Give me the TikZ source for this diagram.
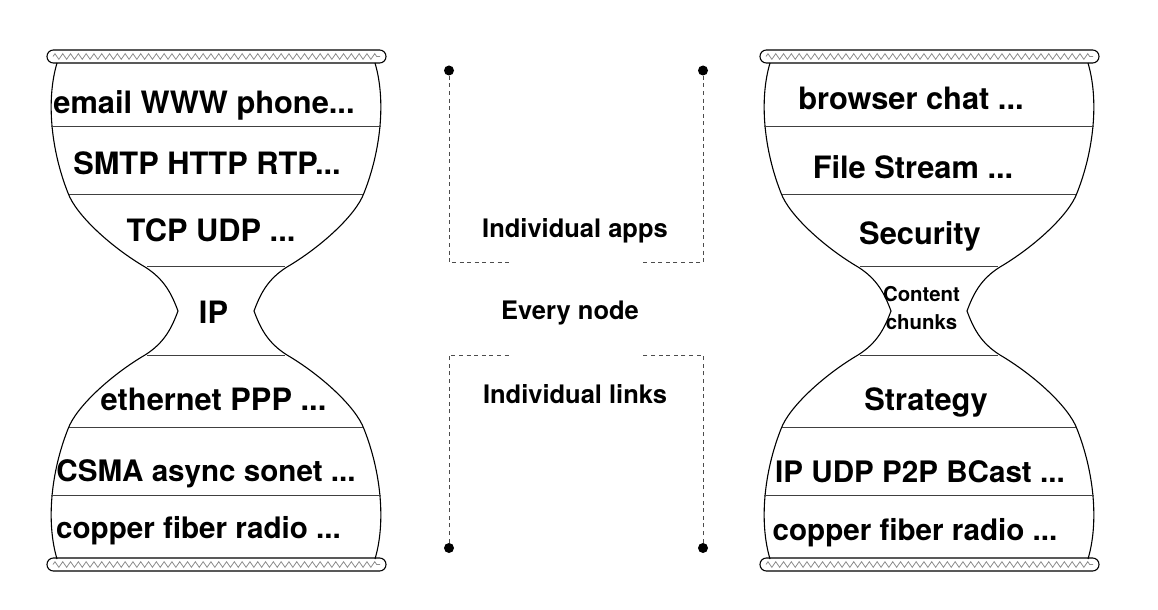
\documentclass[tikz,border=0pt]{standalone}
\usepackage{fontspec}
\setmainfont{TeX Gyre Heros}
\usetikzlibrary{decorations.pathmorphing}

\tikzset{
  glass/.style={draw, line width=0.55pt},
  layer/.style={draw=black!75, line width=0.5pt},
  rim/.style={draw, line width=0.55pt, rounded corners=3.2pt},
  zig/.style={draw=black!45, line width=0.4pt, decorate,
    decoration={zigzag, segment length=3.9pt, amplitude=1.4pt}},
  guide/.style={draw=black!70, line width=0.5pt, dash pattern=on 2pt off 1.8pt},
  dot/.style={circle, fill, inner sep=0pt, minimum size=5pt},
  stack/.style={font=\fontsize{15.4}{18}\selectfont\bfseries, anchor=base, inner sep=0pt},
  stacklow/.style={stack, font=\fontsize{14.8}{18}\selectfont\bfseries},
  note/.style={font=\fontsize{12.75}{15}\selectfont\bfseries, anchor=base, inner sep=0pt}
}

\begin{document}
\begin{tikzpicture}[x=0.5pt, y=-0.5pt]
  \useasboundingbox (0,0) rectangle (1158,610);

  % hourglass outlines, layer lines and rims
  \foreach \cx in {216,929}{
    \begin{scope}[shift={(\cx,311)}]
      \foreach \s in {1,-1}
        \draw[glass, xscale=\s] (-159,-248)
          .. controls (-170,-211) and (-165,-161) .. (-148,-118)
          .. controls (-140,-96) and (-105,-64) .. (-71,-44)
          .. controls (-51,-31.5) and (-44,-16) .. (-38,0)
          .. controls (-44,16) and (-51,31.5) .. (-71,44)
          .. controls (-105,64) and (-140,96) .. (-148,118)
          .. controls (-165,161) and (-170,211) .. (-159,248);
      \foreach \dy/\w in {184/165, 116/147, 44.5/69}{
        \draw[layer] (-\w,-\dy) -- (\w,-\dy);
        \draw[layer] (-\w,\dy) -- (\w,\dy);
      }
      \draw[rim] (-169,-261) rectangle (170,-248);
      \draw[rim] (-169,247) rectangle (170,260);
      \draw[zig] (-163,-254.5) -- (164,-254.5);
      \draw[zig] (-163,253.5) -- (164,253.5);
    \end{scope}
  }

  % internet stack
  \node[stack] (inet-app) at (204,114) {email WWW phone...};
  \node[stack] (inet-appproto) at (207,175) {SMTP HTTP RTP...};
  \node[stack] (inet-trans) at (211,242) {TCP UDP ...};
  \node[stack] (inet-ip) at (213.5,323) {IP};
  \node[stack] (inet-link) at (213.5,410) {ethernet PPP ...};
  \node[stacklow] (inet-mac) at (206,481) {CSMA async sonet ...};
  \node[stacklow] (inet-phy) at (198.5,538) {copper fiber radio ...};

  % content stack
  \node[stack] (ndn-app) at (911,110) {browser chat ...};
  \node[stack] (ndn-svc) at (913,178) {File Stream ...};
  \node[stack] (ndn-sec) at (920,245) {Security};
  \node[font=\fontsize{10.2}{14}\selectfont\bfseries, align=center, inner sep=0pt]
    (ndn-chunk) at (921.5,308.5) {Content\\chunks};
  \node[stack] (ndn-strat) at (926,410) {Strategy};
  \node[stacklow] (ndn-net) at (920,482) {IP UDP P2P BCast ...};
  \node[stacklow] (ndn-phy) at (915,540) {copper fiber radio ...};

  % scope brackets in the middle
  \node[note] (apps) at (575,238) {Individual apps};
  \node[note] (every) at (570,320) {Every node};
  \node[note] (links) at (575,403) {Individual links};

  \node[dot] (appsL) at (449,70.5) {};
  \node[dot] (appsR) at (703,70.5) {};
  \node[dot] (linksL) at (449,548) {};
  \node[dot] (linksR) at (703,548) {};
  \coordinate (appsL-end) at (510,263);
  \coordinate (appsR-end) at (641,263);
  \coordinate (linksL-end) at (510,355);
  \coordinate (linksR-end) at (641,355);

  \draw[guide] (appsL) |- (appsL-end);
  \draw[guide] (appsR) |- (appsR-end);
  \draw[guide] (linksL) |- (linksL-end);
  \draw[guide] (linksR) |- (linksR-end);
\end{tikzpicture}
\end{document}
